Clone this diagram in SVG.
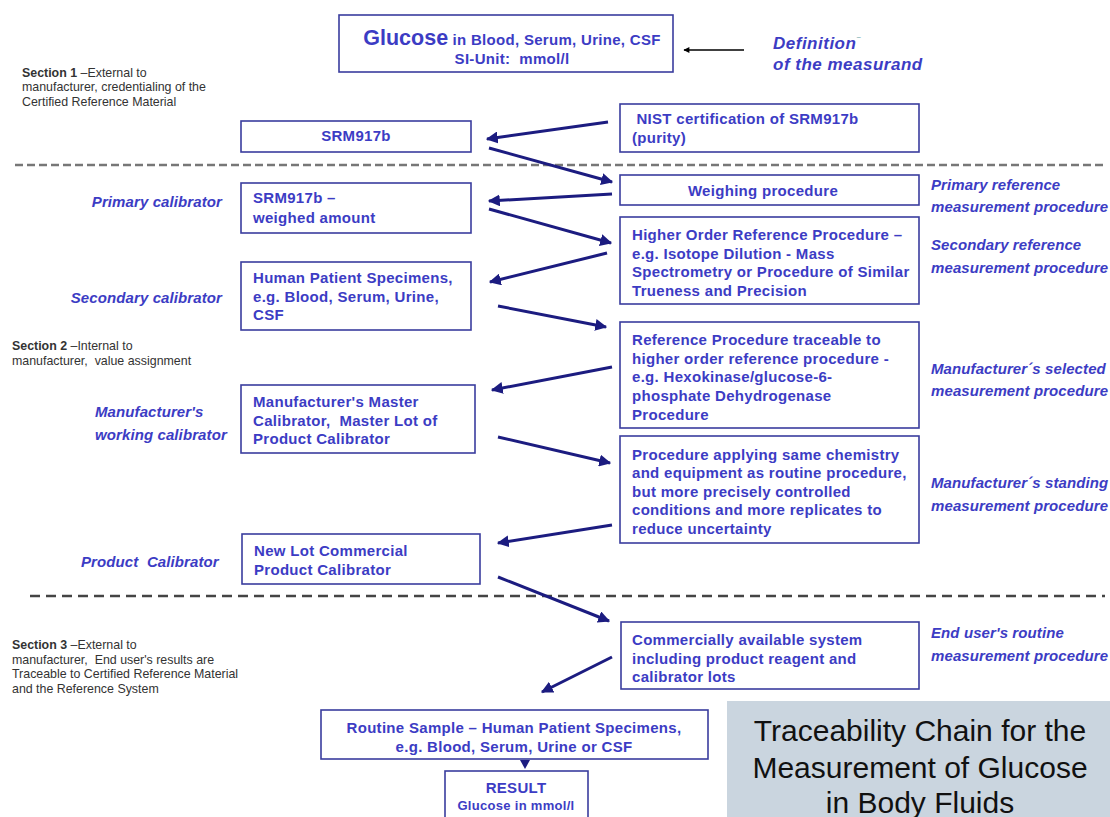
<svg xmlns="http://www.w3.org/2000/svg" width="1110" height="817" viewBox="0 0 1110 817">
<style>
.box{fill:#fff;stroke:#3a3d9e;stroke-width:1.6}
.bt{font-family:"Liberation Sans",Arial,sans-serif;font-weight:bold;font-size:15px;letter-spacing:0.3px;fill:#3c3cc4}
.lab{font-family:"Liberation Sans",Arial,sans-serif;font-weight:bold;font-style:italic;font-size:15px;letter-spacing:0.1px;fill:#3c3cc4}
.sec{font-family:"Liberation Sans",Arial,sans-serif;font-size:12.4px;fill:#333}
.sec tspan.b{font-weight:bold}
.arr{stroke:#1c1c80;stroke-width:3;fill:none;marker-end:url(#ah)}
.dash{stroke:#666;stroke-width:2.5;fill:none}
.ttl{font-family:"Liberation Sans",Arial,sans-serif;font-size:30px;fill:#111}
</style>
<defs>
<marker id="ah" viewBox="0 0 10 10" refX="9" refY="5" markerWidth="4" markerHeight="4" orient="auto" markerUnits="strokeWidth">
<path d="M0,0 L10,5 L0,10 z" fill="#1c1c80"/>
</marker>
<marker id="ahb" viewBox="0 0 10 10" refX="9" refY="5" markerWidth="8" markerHeight="6" orient="auto" markerUnits="userSpaceOnUse">
<path d="M0,0 L10,5 L0,10 z" fill="#000"/>
</marker>
</defs>
<rect width="1110" height="817" fill="#fff"/>

<g id="separators">
<line class="dash" x1="15" y1="165" x2="1105" y2="165" stroke-dasharray="8,4" style="stroke:#777"/>
<line class="dash" x1="30" y1="596" x2="1105" y2="596" stroke-dasharray="10,6" style="stroke:#444"/>
</g>

<g id="sections">
<text class="sec" x="22" y="77"><tspan class="b">Section 1</tspan> –External to</text>
<text class="sec" x="22" y="91">manufacturer, credentialing of the</text>
<text class="sec" x="22" y="106">Certified Reference Material</text>
<text class="sec" x="12" y="350"><tspan class="b">Section 2</tspan> –Internal to</text>
<text class="sec" x="12" y="365" xml:space="preserve">manufacturer,  value assignment</text>
<text class="sec" x="12" y="649"><tspan class="b">Section 3</tspan> –External to</text>
<text class="sec" x="12" y="664" xml:space="preserve">manufacturer,  End user's results are</text>
<text class="sec" x="12" y="678">Traceable to Certified Reference Material</text>
<text class="sec" x="12" y="693">and the Reference System</text>
</g>

<g id="measurand">
<rect class="box" x="339" y="15" width="334" height="57"/>
<text class="bt" x="512" y="45" text-anchor="middle"><tspan style="font-size:21.5px;letter-spacing:0">Glucose</tspan> in Blood, Serum, Urine, CSF</text>
<text class="bt" x="512" y="64" text-anchor="middle" xml:space="preserve">SI-Unit:  mmol/l</text>
</g>

<g id="definition">
<text class="lab" x="773" y="49" style="font-size:17px;letter-spacing:0.5px">Definition<tspan dy="-10" style="font-size:8px;fill:#5a9aa0">–</tspan></text>
<text class="lab" x="773" y="70" style="font-size:17px;letter-spacing:0.5px">of the measurand</text>
</g>

<g id="srm917b">
<rect class="box" x="241" y="121" width="230" height="31"/>
<text class="bt" x="356" y="141" text-anchor="middle">SRM917b</text>
</g>

<g id="nist">
<rect class="box" x="620" y="104" width="299" height="48"/>
<text class="bt" x="632" y="124" xml:space="preserve"> NIST certification of SRM917b</text>
<text class="bt" x="632" y="143">(purity)</text>
</g>

<g id="weighing">
<rect class="box" x="620" y="175" width="299" height="30"/>
<text class="bt" x="763" y="196" text-anchor="middle">Weighing procedure</text>
<text class="lab" x="931" y="190">Primary reference</text>
<text class="lab" x="931" y="212">measurement procedure</text>
</g>

<g id="weighed-amount">
<rect class="box" x="241" y="183" width="230" height="50"/>
<text class="bt" x="253" y="203">SRM917b –</text>
<text class="bt" x="253" y="223">weighed amount</text>
<text class="lab" x="222" y="207" text-anchor="end">Primary calibrator</text>
</g>

<g id="higher-order">
<rect class="box" x="620" y="217" width="299" height="87"/>
<text class="bt" x="632" y="240">Higher Order Reference Procedure –</text>
<text class="bt" x="632" y="259">e.g. Isotope Dilution - Mass</text>
<text class="bt" x="632" y="277">Spectrometry or Procedure of Similar</text>
<text class="bt" x="632" y="296">Trueness and Precision</text>
<text class="lab" x="931" y="250">Secondary reference</text>
<text class="lab" x="931" y="273">measurement procedure</text>
</g>

<g id="human-specimens">
<rect class="box" x="241" y="262" width="230" height="68"/>
<text class="bt" x="253" y="283">Human Patient Specimens,</text>
<text class="bt" x="253" y="302">e.g. Blood, Serum, Urine,</text>
<text class="bt" x="253" y="320">CSF</text>
<text class="lab" x="222" y="303" text-anchor="end">Secondary calibrator</text>
</g>

<g id="reference-procedure">
<rect class="box" x="620" y="322" width="299" height="106"/>
<text class="bt" x="632" y="345">Reference Procedure traceable to</text>
<text class="bt" x="632" y="364">higher order reference procedure -</text>
<text class="bt" x="632" y="382">e.g. Hexokinase/glucose-6-</text>
<text class="bt" x="632" y="401">phosphate Dehydrogenase</text>
<text class="bt" x="632" y="420">Procedure</text>
<text class="lab" x="931" y="374">Manufacturer´s selected</text>
<text class="lab" x="931" y="396">measurement procedure</text>
</g>

<g id="master-calibrator">
<rect class="box" x="241" y="385" width="234" height="68"/>
<text class="bt" x="253" y="407">Manufacturer's Master</text>
<text class="bt" x="253" y="426" xml:space="preserve">Calibrator,  Master Lot of</text>
<text class="bt" x="253" y="444">Product Calibrator</text>
<text class="lab" x="95" y="417">Manufacturer's</text>
<text class="lab" x="95" y="440">working calibrator</text>
</g>

<g id="standing-procedure">
<rect class="box" x="620" y="436" width="299" height="107"/>
<text class="bt" x="632" y="460">Procedure applying same chemistry</text>
<text class="bt" x="632" y="478">and equipment as routine procedure,</text>
<text class="bt" x="632" y="497">but more precisely controlled</text>
<text class="bt" x="632" y="515">conditions and more replicates to</text>
<text class="bt" x="632" y="534">reduce uncertainty</text>
<text class="lab" x="931" y="488">Manufacturer´s standing</text>
<text class="lab" x="931" y="511">measurement procedure</text>
</g>

<g id="new-lot">
<rect class="box" x="242" y="534" width="238" height="50"/>
<text class="bt" x="254" y="556">New Lot Commercial</text>
<text class="bt" x="254" y="575">Product Calibrator</text>
<text class="lab" x="81" y="567" xml:space="preserve">Product  Calibrator</text>
</g>

<g id="commercial-system">
<rect class="box" x="621" y="622" width="298" height="67"/>
<text class="bt" x="632" y="645">Commercially available system</text>
<text class="bt" x="632" y="664">including product reagent and</text>
<text class="bt" x="632" y="682">calibrator lots</text>
<text class="lab" x="931" y="638">End user's routine</text>
<text class="lab" x="931" y="661">measurement procedure</text>
</g>

<g id="routine-sample">
<rect class="box" x="321" y="710" width="387" height="49"/>
<text class="bt" x="514" y="733" text-anchor="middle">Routine Sample – Human Patient Specimens,</text>
<text class="bt" x="514" y="752" text-anchor="middle">e.g. Blood, Serum, Urine or CSF</text>
</g>

<g id="result">
<rect class="box" x="445" y="771" width="143" height="60"/>
<text class="bt" x="516" y="793" text-anchor="middle">RESULT</text>
<text class="bt" x="516" y="810" text-anchor="middle" style="font-size:13px">Glucose in mmol/l</text>
</g>

<g id="title">
<rect x="727" y="701" width="390" height="130" fill="#cad5df"/>
<text class="ttl" x="920" y="741" text-anchor="middle">Traceability Chain for the</text>
<text class="ttl" x="920" y="778" text-anchor="middle">Measurement of Glucose</text>
<text class="ttl" x="920" y="813" text-anchor="middle">in Body Fluids</text>
</g>

<g id="connectors">
<line x1="744" y1="50" x2="684" y2="50" stroke="#000" stroke-width="1.5" marker-end="url(#ahb)"/>
<line class="arr" x1="608" y1="122" x2="487" y2="139"/>
<line class="arr" x1="489" y1="148" x2="612" y2="182"/>
<line class="arr" x1="612" y1="194" x2="489" y2="201"/>
<line class="arr" x1="489" y1="209" x2="611" y2="243"/>
<line class="arr" x1="607" y1="253" x2="490" y2="282"/>
<line class="arr" x1="498" y1="306" x2="606" y2="327"/>
<line class="arr" x1="612" y1="367" x2="492" y2="390"/>
<line class="arr" x1="498" y1="437" x2="610" y2="463"/>
<line class="arr" x1="612" y1="525" x2="498" y2="543"/>
<line class="arr" x1="498" y1="577" x2="609" y2="621"/>
<line class="arr" x1="612" y1="657" x2="542" y2="692"/>
<path d="M520,760 L530,760 L525,769 z" fill="#1c1c80"/>
</g>
</svg>
